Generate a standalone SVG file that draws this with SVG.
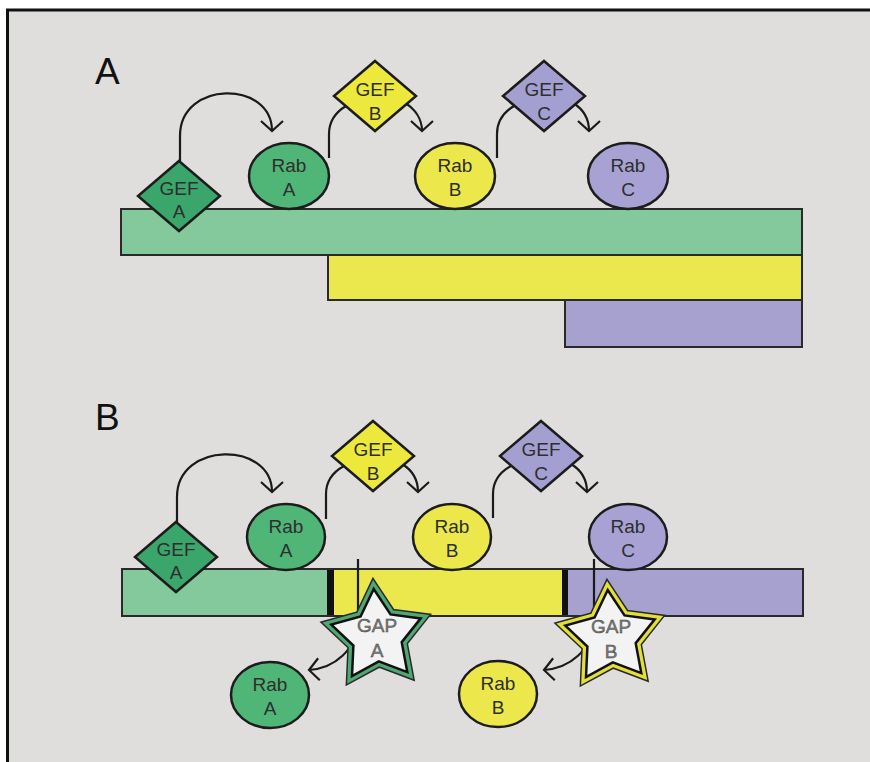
<svg xmlns="http://www.w3.org/2000/svg" xmlns:xlink="http://www.w3.org/1999/xlink" width="870" height="762" viewBox="0 0 870 762">
  <style>
    .lbl { font-family: "Liberation Sans", Arial, sans-serif; font-size: 37px; fill: #111; }
    .t { font-family: "Liberation Sans", Arial, sans-serif; font-size: 19px; fill: #2e2e2e; text-anchor: middle; }
    .gt { font-family: "Liberation Sans", Arial, sans-serif; font-size: 19px; fill: #7a7a7a; stroke: #3a3a3a; stroke-width: 0.4; text-anchor: middle; }
    .shape { stroke: #1c1c1c; stroke-width: 2.5; }
    .bar { stroke: #2a2a2a; stroke-width: 2; }
    .conn { fill: none; stroke: #1a1a1a; stroke-width: 2.2; }
    .arr { marker-end: url(#vhead); }
    .gA { fill: #3ba66b; } .gB { fill: #ece83c; } .gC { fill: #a49fd1; }
    .rA { fill: #4fb677; } .rB { fill: #ece84b; } .rC { fill: #a7a2d3; }
  </style>
  <defs>
    <marker id="vhead" viewBox="-13 -13 16 26" refX="0" refY="0" markerWidth="16" markerHeight="26" markerUnits="userSpaceOnUse" orient="auto">
      <path d="M-10,-11 L0,0 L-10,11" fill="none" stroke="#1a1a1a" stroke-width="2.2" stroke-linejoin="miter"/>
    </marker>
    <polygon id="dia" points="0,-35 41,0 0,35 -41,0"/>
    <path id="star" d="M-3.3,-47 L13.5,-21.6 L43.7,-17.6 L24.7,6.2 L30.3,36.1 L1.8,25.4 L-25,40 L-23.6,9.5 L-45.7,-11.4 L-16.4,-19.5 Z"/>
  </defs>

  <!-- frame -->
  <rect x="0" y="0" width="870" height="762" fill="#ffffff"/>
  <rect x="7.5" y="10" width="900" height="800" fill="#e0dedd" stroke="#111" stroke-width="3"/>

  <!-- panel A -->
  <text class="lbl" x="95" y="84">A</text>
  <g id="membraneA">
    <rect class="bar" x="121" y="209" width="681" height="46" fill="#84c99b"/>
    <rect class="bar" x="328" y="255" width="474" height="45" fill="#ebe84e"/>
    <rect class="bar" x="565" y="300" width="237" height="47" fill="#a6a1cf"/>
  </g>

  <!-- panel B -->
  <text class="lbl" x="95" y="430">B</text>
  <g id="membraneB">
    <rect x="122" y="569" width="206" height="47" fill="#84c99b"/>
    <rect x="334" y="569" width="228" height="47" fill="#ebe84e"/>
    <rect x="568" y="569" width="235" height="47" fill="#a6a1cf"/>
    <rect x="327" y="569" width="7" height="47" fill="#111"/>
    <rect x="562" y="569" width="6" height="47" fill="#111"/>
    <rect class="bar" x="122" y="569" width="681" height="47" fill="none"/>
  </g>

  <!-- connectors -->
  <g id="connectors">
    <path class="conn arr" d="M180,161 V136 C180,80 272,80 272,131"/>
    <path class="conn" d="M329,158 V134 C329,121 336,112 346,106"/>
    <path class="conn arr" d="M405,103 C415,109 422,119 422,131"/>
    <path class="conn" d="M497,158 V134 C497,121 504,112 514,106"/>
    <path class="conn arr" d="M573,103 C583,109 589,119 589,131"/>

    <path class="conn arr" d="M177,523 V497 C177,441 272,441 272,492"/>
    <path class="conn" d="M326,519 V494 C326,481 333,472 344,466"/>
    <path class="conn arr" d="M402,464 C412,470 418,480 418,492"/>
    <path class="conn" d="M493,518 V494 C493,481 500,472 511,466"/>
    <path class="conn arr" d="M571,464 C581,470 587,480 587,492"/>

    <path class="conn arr" d="M358,559 V622 C356,650 335,668 309,670"/>
    <path class="conn arr" d="M594,559 V622 C592,650 570,668 544,670"/>
  </g>

  <!-- panel A nodes -->
  <g id="gefA1"><use xlink:href="#dia" class="shape gA" x="179" y="196"/><text class="t" x="179" y="195">GEF</text><text class="t" x="179" y="218">A</text></g>
  <g id="rabA1"><ellipse class="shape rA" cx="289" cy="176" rx="40" ry="33"/><text class="t" x="289" y="172">Rab</text><text class="t" x="289" y="196">A</text></g>
  <g id="gefB1"><use xlink:href="#dia" class="shape gB" x="375" y="96"/><text class="t" x="375" y="96">GEF</text><text class="t" x="375" y="120">B</text></g>
  <g id="rabB1"><ellipse class="shape rB" cx="455" cy="176" rx="40" ry="33"/><text class="t" x="455" y="172">Rab</text><text class="t" x="455" y="196">B</text></g>
  <g id="gefC1"><use xlink:href="#dia" class="shape gC" x="544" y="96"/><text class="t" x="544" y="96">GEF</text><text class="t" x="544" y="120">C</text></g>
  <g id="rabC1"><ellipse class="shape rC" cx="628" cy="176" rx="40" ry="33"/><text class="t" x="628" y="172">Rab</text><text class="t" x="628" y="196">C</text></g>

  <!-- panel B nodes -->
  <g id="gefA2"><use xlink:href="#dia" class="shape gA" x="176" y="557"/><text class="t" x="176" y="556">GEF</text><text class="t" x="176" y="579">A</text></g>
  <g id="rabA2"><ellipse class="shape rA" cx="286" cy="537" rx="39" ry="33"/><text class="t" x="286" y="533">Rab</text><text class="t" x="286" y="557">A</text></g>
  <g id="gefB2"><use xlink:href="#dia" class="shape gB" x="373" y="456"/><text class="t" x="373" y="456">GEF</text><text class="t" x="373" y="480">B</text></g>
  <g id="rabB2"><ellipse class="shape rB" cx="452" cy="537" rx="39" ry="33"/><text class="t" x="452" y="533">Rab</text><text class="t" x="452" y="557">B</text></g>
  <g id="gefC2"><use xlink:href="#dia" class="shape gC" x="541" y="456"/><text class="t" x="541" y="456">GEF</text><text class="t" x="541" y="480">C</text></g>
  <g id="rabC2"><ellipse class="shape rC" cx="628" cy="537" rx="39" ry="33"/><text class="t" x="628" y="533">Rab</text><text class="t" x="628" y="557">C</text></g>

  <g id="gapA">
    <use xlink:href="#star" x="377" y="636" fill="none" stroke="#2a2a2a" stroke-width="12"/>
    <use xlink:href="#star" x="377" y="636" fill="none" stroke="#4fa873" stroke-width="9"/>
    <use xlink:href="#star" x="377" y="636" fill="#f3f3f3" stroke="#111" stroke-width="2.5"/>
    <text class="gt" x="377" y="632">GAP</text><text class="gt" x="377" y="657">A</text>
  </g>
  <g id="gapB">
    <use xlink:href="#star" x="611" y="637" fill="none" stroke="#2a2a2a" stroke-width="12"/>
    <use xlink:href="#star" x="611" y="637" fill="none" stroke="#e3df3a" stroke-width="9"/>
    <use xlink:href="#star" x="611" y="637" fill="#f3f3f3" stroke="#111" stroke-width="2.5"/>
    <text class="gt" x="611" y="633">GAP</text><text class="gt" x="611" y="658">B</text>
  </g>

  <g id="rabA3"><ellipse class="shape rA" cx="270" cy="695" rx="39" ry="33"/><text class="t" x="270" y="691">Rab</text><text class="t" x="270" y="715">A</text></g>
  <g id="rabB3"><ellipse class="shape rB" cx="498" cy="694" rx="39" ry="33"/><text class="t" x="498" y="690">Rab</text><text class="t" x="498" y="714">B</text></g>
</svg>
